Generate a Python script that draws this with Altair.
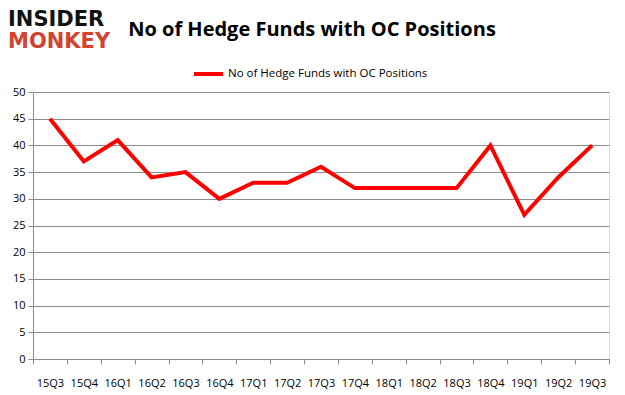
import altair as alt
import pandas as pd

quarters = ["15Q3", "15Q4", "16Q1", "16Q2", "16Q3", "16Q4", "17Q1", "17Q2", "17Q3",
            "17Q4", "18Q1", "18Q2", "18Q3", "18Q4", "19Q1", "19Q2", "19Q3"]
funds = [45, 37, 41, 34, 35, 30, 33, 33, 36, 32, 32, 32, 32, 40, 27, 34, 40]
series_name = "No of Hedge Funds with OC Positions"
y_ticks = list(range(0, 51, 5))

df = pd.DataFrame({"q": quarters, "v": funds})

GRID = "#8c8c8c"
FONT = "Open Sans"

base = alt.Chart(df)

line = base.mark_line(color="#ff0000", strokeWidth=4, strokeJoin="miter").encode(
    x=alt.X("q:N", sort=quarters, title=None,
            scale=alt.Scale(paddingInner=0, paddingOuter=0),
            axis=alt.Axis(labelAngle=0, tickBand="extent", domainColor=GRID, tickColor=GRID,
                          tickSize=5, labelPadding=13, labelFont=FONT, labelFontSize=11,
                          labelColor="#000000", grid=False)),
    y=alt.Y("v:Q", title=None,
            scale=alt.Scale(domain=[0, 50], nice=False),
            axis=alt.Axis(values=y_ticks, domainColor=GRID, tickColor=GRID, tickSize=5,
                          labelPadding=3, labelFont=FONT, labelFontSize=11,
                          labelColor="#000000", gridColor=GRID, gridWidth=1)),
)

legend_line = alt.Chart(pd.DataFrame({"a": [0]})).mark_rule(
    color="#ff0000", strokeWidth=4).encode(
    x=alt.value(161), x2=alt.value(190), y=alt.value(-18))
legend_text = alt.Chart(pd.DataFrame({"t": [series_name]})).mark_text(
    align="left", baseline="middle", font=FONT, fontSize=11.5, color="#000000").encode(
    x=alt.value(195), y=alt.value(-18), text="t:N")

title_text = alt.Chart(pd.DataFrame({"t": [series_name]})).mark_text(
    align="center", baseline="middle", font=FONT, fontSize=20, fontWeight="bold",
    color="#000000").encode(x=alt.value(279), y=alt.value(-62), text="t:N")

logo1 = alt.Chart(pd.DataFrame({"t": ["INSIDER"]})).mark_text(
    align="left", baseline="middle", font="DejaVu Sans", fontWeight="bold",
    fontSize=21, color="#111111").encode(x=alt.value(-25), y=alt.value(-72), text="t:N")
logo2 = alt.Chart(pd.DataFrame({"t": ["MONKEY"]})).mark_text(
    align="left", baseline="middle", font="DejaVu Sans", fontWeight="bold",
    fontSize=21, color="#d24330").encode(x=alt.value(-25), y=alt.value(-50), text="t:N")

chart = alt.layer(line, legend_line, legend_text, title_text, logo1, logo2).properties(
    width=576, height=267,
    autosize=alt.AutoSizeParams(type="none"),
    padding={"left": 25, "top": 84, "right": 5, "bottom": 30},
).configure_view(stroke=None).configure(background="white")

chart.save("out.html", embed_options={"renderer": "svg", "actions": False})
